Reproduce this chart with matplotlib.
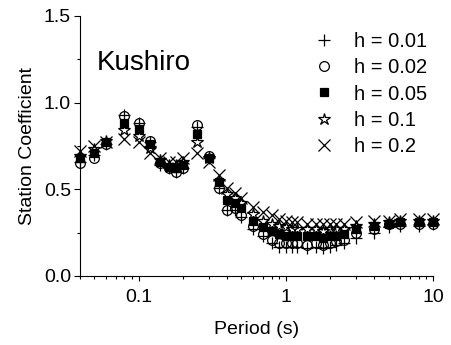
import numpy as np
import matplotlib
matplotlib.use("Agg")
import matplotlib.pyplot as plt
from matplotlib.ticker import FixedLocator, NullFormatter, FuncFormatter

plt.rcParams['font.family'] = ['Liberation Sans', 'DejaVu Sans']

# Periodos (s)
periods = [0.04, 0.05, 0.06, 0.08, 0.1, 0.12, 0.14, 0.16, 0.18, 0.2,
           0.25, 0.3, 0.35, 0.4, 0.45, 0.5, 0.6, 0.7, 0.8, 0.9,
           1.0, 1.1, 1.2, 1.4, 1.6, 1.8, 2.0, 2.2, 2.5, 3.0,
           4.0, 5.0, 6.0, 8.0, 10.0]

h001 = [0.66, 0.70, 0.76, 0.93, 0.88, 0.77, 0.64, 0.62, 0.60, 0.62,
        0.86, 0.68, 0.51, 0.38, 0.38, 0.34, 0.27, 0.23, 0.19, 0.17,
        0.17, 0.17, 0.17, 0.16, 0.17, 0.16, 0.17, 0.18, 0.19, 0.22,
        0.25, 0.28, 0.29, 0.29, 0.30]
h002 = [0.65, 0.68, 0.76, 0.92, 0.88, 0.78, 0.65, 0.62, 0.60, 0.62,
        0.87, 0.69, 0.51, 0.38, 0.39, 0.35, 0.29, 0.24, 0.21, 0.19,
        0.19, 0.19, 0.19, 0.18, 0.19, 0.18, 0.19, 0.20, 0.21, 0.25,
        0.27, 0.30, 0.30, 0.30, 0.30]
h005 = [0.68, 0.71, 0.77, 0.88, 0.85, 0.76, 0.66, 0.63, 0.62, 0.64,
        0.82, 0.68, 0.54, 0.44, 0.42, 0.39, 0.32, 0.28, 0.26, 0.24,
        0.23, 0.23, 0.23, 0.23, 0.23, 0.22, 0.23, 0.23, 0.24, 0.27,
        0.29, 0.30, 0.31, 0.31, 0.31]
h01 = [0.69, 0.73, 0.78, 0.84, 0.81, 0.74, 0.67, 0.64, 0.64, 0.66,
       0.77, 0.68, 0.55, 0.47, 0.45, 0.42, 0.36, 0.32, 0.30, 0.29,
       0.28, 0.27, 0.27, 0.27, 0.27, 0.26, 0.27, 0.27, 0.27, 0.29,
       0.30, 0.31, 0.32, 0.32, 0.32]
h02 = [0.72, 0.75, 0.77, 0.79, 0.77, 0.71, 0.68, 0.66, 0.66, 0.68,
       0.71, 0.66, 0.58, 0.51, 0.48, 0.45, 0.40, 0.37, 0.35, 0.33,
       0.32, 0.31, 0.31, 0.30, 0.30, 0.30, 0.30, 0.30, 0.30, 0.31,
       0.32, 0.32, 0.33, 0.33, 0.33]

series = [h001, h002, h005, h01, h02]
labels = ['h = 0.01', 'h = 0.02', 'h = 0.05', 'h = 0.1', 'h = 0.2']
markers = ['+', 'o', 's', '*', 'x']
fills = ['k', 'none', 'k', 'none', 'k']
sizes = [8, 7, 6, 9, 8]

fig = plt.figure(figsize=(4.52, 3.45), dpi=100)
ax = fig.add_axes([0.177, 0.2, 0.781, 0.754])

for y, lab, m, fc, ms in zip(series, labels, markers, fills, sizes):
    ax.plot(periods, y, linestyle='none', marker=m, markersize=ms,
            markerfacecolor=fc, markeredgecolor='k', markeredgewidth=0.9,
            label=lab, clip_on=False)

ax.set_xscale('log')
ax.set_xlim(0.04, 10)
ax.set_ylim(0, 1.5)
ax.set_yticks([0, 0.5, 1.0, 1.5])
ax.yaxis.set_minor_locator(FixedLocator([0.25, 0.75, 1.25]))
ax.yaxis.set_major_formatter(FuncFormatter(lambda v, p: f"{v:.1f}"))
ax.set_xticks([0.1, 1, 10])
ax.set_xticklabels(['0.1', '1', '10'])
ax.xaxis.set_minor_formatter(NullFormatter())

for s in ['top', 'right']:
    ax.spines[s].set_visible(False)
ax.tick_params(axis='y', which='major', direction='out', length=4.5, width=0.8, labelsize=14, pad=2)
ax.tick_params(axis='x', which='major', direction='out', length=3.5, width=0.8, labelsize=14, pad=6)
ax.tick_params(axis='both', which='minor', direction='out', length=2.2, width=0.8)

ax.set_xlabel('Period (s)', fontsize=14, labelpad=11)
ax.set_ylabel('Station Coefficient', fontsize=14, labelpad=6)
fig.text(97 / 452, 1 - 70 / 345, 'Kushiro', fontsize=20, va='baseline')

fig.legend(loc='upper right', frameon=False, fontsize=14.5, handletextpad=0.5,
           borderpad=0, borderaxespad=0, labelspacing=0.36,
           bbox_to_anchor=(427 / 452, 1 - 32 / 345))

fig.savefig('out.png', dpi=100)
